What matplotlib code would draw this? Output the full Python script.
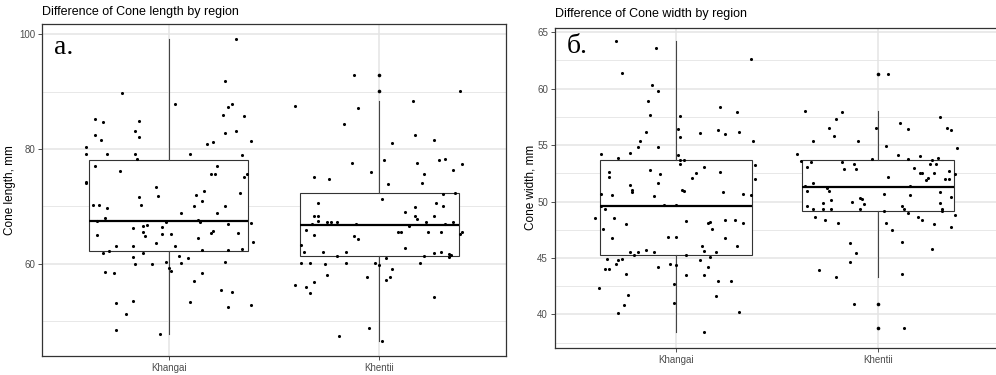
import numpy as np
import matplotlib
matplotlib.use('Agg')
import matplotlib.pyplot as plt

plt.rcParams['font.family'] = ['Liberation Sans', 'DejaVu Sans']

regions = ['Khangai', 'Khentii']

#- cone length (mm), jittered points: value and horizontal jitter offset
len_khangai = [89.7, 85.3, 84.7, 82.5, 81.6, 80.4, 79.1, 79.1, 83.1, 84.8, 82.1, 79.1, 78.2, 77.0, 76.1,
               74.3, 74.1, 70.3, 70.2, 69.7, 68.0, 67.4, 65.0, 61.9, 62.2, 63.0, 63.1, 71.7, 70.2, 66.2,
               66.6, 66.7, 65.5, 64.9, 61.9, 61.2, 59.9, 58.5, 58.3, 53.1, 53.5, 51.3, 48.4, 60.0, 73.3,
               71.8, 66.4, 65.1, 65.1, 67.2, 63.6, 63.1, 60.3, 59.3, 58.8, 61.3, 60.2, 61.0, 47.7, 87.8,
               79.1, 68.9, 53.3, 56.9, 58.3, 71.9, 70.1, 71.0, 72.7, 67.6, 67.3, 64.4, 62.3, 80.9, 81.2,
               77.1, 75.6, 75.6, 68.8, 65.3, 65.7, 70.0, 66.9, 62.4, 60.3, 55.4, 55.1, 52.5, 91.9, 99.1,
               87.4, 87.8, 85.9, 82.8, 83.1, 85.7, 81.4, 78.9, 75.7, 75.2, 72.4, 65.3, 62.6, 63.7, 67.1,
               52.8]
len_khangai_dx = [-0.22, -0.35, -0.31, -0.35, -0.32, -0.39, -0.39, -0.29, -0.16, -0.14, -0.14, -0.16, -0.15,
                  -0.35, -0.23, -0.39, -0.39, -0.36, -0.33, -0.29, -0.30, -0.34, -0.34, -0.31, -0.28, -0.25,
                  -0.17, -0.14, -0.13, -0.17, -0.12, -0.10, -0.12, -0.11, -0.12, -0.17, -0.16, -0.30, -0.26,
                  -0.25, -0.17, -0.20, -0.25, -0.08, -0.06, -0.05, -0.03, -0.03, 0.01, -0.01, -0.06, 0.03,
                  -0.01, 0.00, 0.01, 0.05, 0.06, 0.09, -0.04, 0.03, 0.10, 0.06, 0.10, 0.12, 0.16, 0.13,
                  0.12, 0.16, 0.17, 0.14, 0.15, 0.14, 0.16, 0.18, 0.21, 0.23, 0.20, 0.22, 0.23, 0.20, 0.21,
                  0.27, 0.28, 0.28, 0.27, 0.25, 0.30, 0.28, 0.27, 0.32, 0.28, 0.30, 0.26, 0.27, 0.32, 0.36,
                  0.39, 0.35, 0.37, 0.36, 0.34, 0.33, 0.35, 0.40, 0.39, 0.39]
len_khentii = [87.5, 92.9, 90.2, 88.3, 87.2, 84.3, 81.0, 82.5, 81.6, 77.5, 76.0, 78.0, 73.9, 77.6, 78.0,
               78.3, 77.4, 76.3, 75.6, 74.0, 71.3, 75.1, 74.7, 70.5, 68.3, 68.3, 67.0, 67.4, 67.3, 67.3,
               67.3, 67.0, 72.4, 72.2, 70.5, 70.0, 69.8, 69.0, 68.4, 67.8, 68.4, 67.3, 65.5, 66.9, 67.2,
               65.5, 65.6, 65.1, 66.5, 65.5, 65.5, 65.9, 65.0, 63.3, 64.9, 64.3, 62.8, 62.0, 62.0, 62.0,
               61.3, 61.9, 62.0, 61.7, 61.5, 61.1, 61.3, 61.0, 60.2, 60.1, 60.0, 60.1, 60.1, 59.8, 60.1,
               59.0, 58.1, 57.7, 57.6, 57.1, 56.8, 56.2, 56.0, 54.8, 54.2, 48.8, 47.4, 46.5]
len_khentii_dx = [-0.40, -0.12, 0.38, 0.16, -0.10, -0.17, 0.06, 0.17, 0.26, -0.13, -0.04, 0.02, 0.04, 0.18,
                  0.28, 0.31, 0.39, 0.35, 0.21, 0.20, 0.01, -0.31, -0.24, -0.29, -0.31, -0.29, -0.32, -0.29,
                  -0.25, -0.23, -0.20, -0.11, 0.36, 0.30, 0.27, 0.30, 0.17, 0.12, 0.17, 0.18, 0.26, 0.22,
                  0.23, 0.31, 0.35, 0.29, 0.39, 0.38, 0.14, 0.09, 0.10, -0.35, -0.31, -0.37, -0.12, -0.10,
                  0.12, -0.36, -0.27, -0.16, -0.20, 0.26, 0.29, 0.33, 0.34, 0.33, 0.21, 0.03, -0.37, -0.33,
                  -0.26, -0.16, -0.02, 0.00, 0.19, 0.06, -0.25, -0.06, 0.05, 0.03, -0.31, -0.40, -0.35,
                  -0.33, 0.26, -0.05, -0.19, 0.01]

#- cone width (mm)
wid_khangai = [64.2, 63.6, 61.4, 62.6, 60.3, 59.8, 58.9, 57.7, 56.2, 55.4, 54.8, 54.8, 54.3, 53.9, 54.2,
               57.6, 56.4, 55.7, 54.1, 53.7, 53.7, 53.3, 56.1, 58.4, 57.9, 56.3, 56.0, 56.2, 55.4, 53.2,
               52.0, 53.1, 52.5, 52.1, 52.6, 52.8, 52.4, 52.6, 52.2, 50.7, 50.6, 51.5, 51.0, 50.8, 50.5,
               51.6, 51.0, 50.9, 50.8, 50.7, 50.6, 49.6, 49.3, 48.5, 48.5, 48.0, 47.6, 46.8, 49.7, 49.7,
               48.3, 48.1, 48.2, 47.6, 48.4, 48.4, 48.1, 46.9, 46.9, 46.8, 46.1, 46.1, 45.6, 45.5, 45.5,
               45.3, 45.5, 45.7, 45.5, 45.3, 44.9, 44.8, 44.9, 44.5, 44.0, 44.0, 43.6, 45.1, 44.8, 44.5,
               44.4, 44.2, 44.2, 43.5, 43.5, 43.0, 43.0, 42.7, 42.3, 41.7, 41.6, 40.8, 41.0, 40.1, 40.2,
               38.4]
wid_khangai_dx = [-0.30, -0.10, -0.27, 0.37, -0.12, -0.09, -0.14, -0.13, -0.15, -0.18, -0.19, -0.09, -0.23,
                  -0.29, -0.37, 0.02, 0.01, 0.02, 0.01, 0.02, 0.04, 0.02, 0.12, 0.22, 0.30, 0.21, 0.24, 0.31,
                  0.38, 0.39, 0.39, 0.14, 0.10, 0.08, 0.22, -0.13, -0.08, -0.33, -0.33, -0.37, -0.32, -0.23,
                  -0.22, -0.22, -0.11, -0.09, 0.03, 0.04, 0.23, 0.33, 0.37, -0.37, -0.35, -0.40, -0.31,
                  -0.25, -0.36, -0.32, -0.06, 0.00, 0.05, 0.16, 0.17, 0.18, 0.24, 0.29, 0.33, -0.04, 0.00,
                  0.24, 0.30, 0.13, 0.14, 0.20, -0.23, -0.21, -0.19, -0.15, -0.11, 0.05, -0.34, -0.29, -0.27,
                  -0.30, -0.35, -0.33, -0.25, 0.17, 0.12, -0.03, 0.00, -0.09, 0.16, 0.05, 0.14, 0.21, 0.27,
                  -0.01, -0.38, -0.24, 0.20, -0.26, -0.01, -0.29, 0.31, 0.14]
wid_khentii = [61.3, 58.0, 57.9, 57.3, 56.5, 55.8, 55.4, 55.4, 56.5, 54.9, 57.0, 56.4, 57.5, 56.5, 56.3,
               54.7, 54.2, 53.6, 53.5, 53.1, 53.5, 52.9, 53.3, 52.9, 53.8, 54.1, 53.8, 54.0, 53.7, 53.9,
               53.3, 53.3, 53.0, 52.5, 52.5, 52.5, 51.9, 52.1, 52.0, 52.0, 52.7, 52.4, 52.2, 51.4, 50.9,
               51.6, 51.2, 50.9, 49.6, 49.3, 48.6, 49.3, 49.9, 48.4, 50.1, 49.3, 48.1, 50.0, 50.3, 50.2,
               49.8, 49.3, 50.7, 49.2, 49.6, 49.3, 49.0, 50.6, 51.4, 48.6, 48.4, 48.0, 50.8, 49.9, 49.3,
               49.2, 50.4, 48.8, 47.7, 48.1, 47.5, 46.3, 45.4, 44.6, 46.4, 45.8, 43.9, 43.3, 43.6, 40.9,
               38.8]
wid_khentii_dx = [0.05, -0.36, -0.18, -0.21, -0.24, -0.22, -0.32, -0.10, -0.01, 0.04, 0.11, 0.15, 0.31, 0.34,
                  0.36, 0.39, -0.40, -0.38, -0.33, -0.35, -0.18, -0.17, -0.12, -0.11, -0.03, 0.10, 0.15,
                  0.21, 0.27, 0.30, 0.26, 0.29, 0.18, 0.21, 0.22, 0.28, 0.24, 0.25, 0.33, 0.35, 0.35, 0.38,
                  0.05, -0.36, -0.35, -0.32, -0.25, -0.24, -0.35, -0.32, -0.31, -0.27, -0.27, -0.26, -0.23,
                  -0.23, -0.20, -0.13, -0.09, -0.08, -0.07, -0.09, 0.03, 0.03, 0.12, 0.13, 0.15, 0.16, 0.16,
                  0.20, 0.22, 0.28, 0.31, 0.31, 0.32, 0.32, 0.36, 0.38, 0.36, 0.04, 0.07, -0.14, -0.11,
                  -0.14, 0.12, 0.27, -0.29, -0.21, 0.12, -0.12, 0.13]

#- box statistics: (whislo, q1, med, q3, whishi), outliers
len_box = [(47.8, 62.2, 67.4, 78.0, 99.1), (46.5, 61.3, 66.7, 72.4, 88.3)]
len_out = [[], [92.9, 90.2]]
wid_box = [(38.4, 45.3, 49.6, 53.7, 64.2), (43.3, 49.2, 51.3, 53.7, 58.0)]
wid_out = [[], [61.3, 40.9, 38.8]]

panels = [
    dict(title='Difference of Cone length by region', ylab='Cone length, mm', tag='a.',
         vals=[len_khangai, len_khentii], dx=[len_khangai_dx, len_khentii_dx],
         box=len_box, out=len_out, ylim=(43.9, 101.8), major=[60, 80, 100], minor=[50, 70, 90],
         rect=[42/996, 19/375, 464/996, 332/375], title_xy=(42, 12), tag_xy=(54, 54), ylab_x=-0.055),
    dict(title='Difference of Cone width by region', ylab='Cone width, mm', tag='б.',
         vals=[wid_khangai, wid_khentii], dx=[wid_khangai_dx, wid_khentii_dx],
         box=wid_box, out=wid_out, ylim=(37.05, 65.4), major=[40, 45, 50, 55, 60, 65],
         minor=[37.5, 42.5, 47.5, 52.5, 57.5, 62.5],
         rect=[555/996, 27.3/375, 444/996, 320/375], title_xy=(555, 14), tag_xy=(567, 53), ylab_x=-0.042),
]

fig = plt.figure(figsize=(9.96, 3.75), dpi=100)
grid_c = '#e4e4e4'
dark = '#333333'

for p in panels:
    ax = fig.add_axes(p['rect'])
    ax.set_xlim(0.4, 2.6)
    ax.set_ylim(*p['ylim'])
    for m in p['minor']:
        ax.axhline(m, color=grid_c, lw=0.6, zorder=0)
    for m in p['major']:
        ax.axhline(m, color=grid_c, lw=1.1, zorder=0)
    for i in range(len(regions)):
        ax.axvline(i + 1, color=grid_c, lw=1.1, zorder=0)

    stats = []
    for i, (lo, q1, med, q3, hi) in enumerate(p['box']):
        stats.append(dict(whislo=lo, q1=q1, med=med, q3=q3, whishi=hi, fliers=p['out'][i]))
    ax.bxp(stats, positions=[1, 2], widths=0.75, showcaps=False, patch_artist=True,
           boxprops=dict(facecolor='white', edgecolor=dark, lw=0.8),
           whiskerprops=dict(color='#444444', lw=0.8),
           medianprops=dict(color='black', lw=1.6),
           flierprops=dict(marker='o', markersize=2.6, markerfacecolor='black',
                           markeredgecolor='black', markeredgewidth=0), zorder=2)

    for i in range(len(regions)):
        xs = np.array(p['dx'][i]) + i + 1
        ax.scatter(xs, p['vals'][i], s=5, color='black', lw=0, zorder=3)

    ax.set_xticks([1, 2])
    ax.set_xticklabels(regions)
    ax.set_yticks(p['major'])
    ax.tick_params(axis='both', length=3, width=0.6, color=dark, labelsize=7,
                   labelcolor='#4d4d4d', pad=2)
    for s in ax.spines.values():
        s.set_color(dark)
        s.set_linewidth(0.9)
    ax.set_ylabel(p['ylab'], fontsize=8.5, color='black')
    ax.yaxis.set_label_coords(p['ylab_x'], 0.5)
    tx, ty = p['title_xy']
    fig.text(tx/996, 1 - ty/375, p['title'], fontsize=9, va='center', ha='left')
    gx, gy = p['tag_xy']
    fig.text(gx/996, 1 - gy/375, p['tag'], fontsize=20, family='Liberation Serif',
             va='baseline', ha='left')

plt.savefig('out.png', dpi=100)
